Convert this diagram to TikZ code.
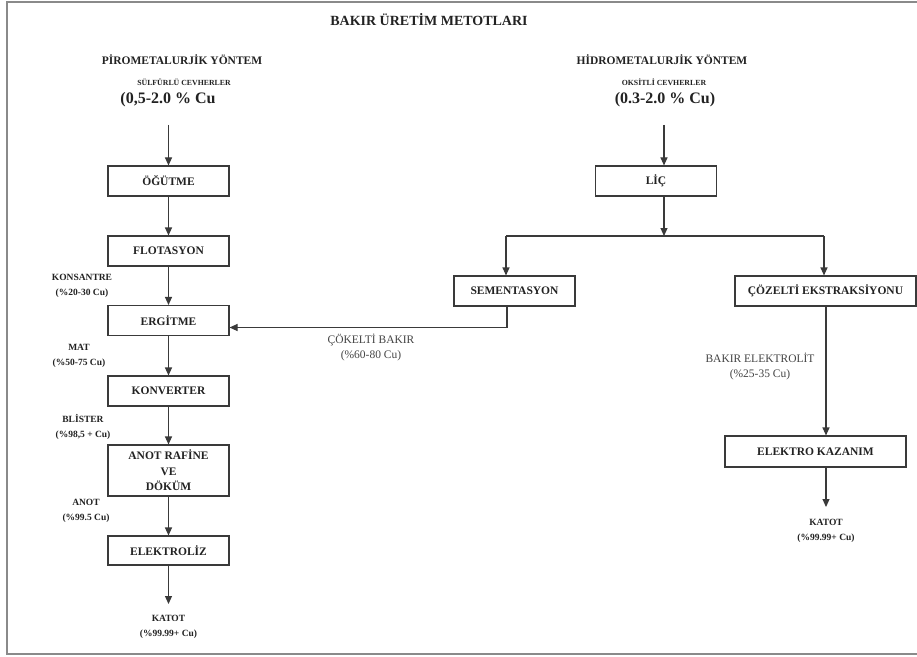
\documentclass[tikz,border=0pt]{standalone}
\usepackage{fontspec}
\setmainfont{Liberation Serif}
\usetikzlibrary{arrows.meta}
\definecolor{ink}{HTML}{222222}
\definecolor{lin}{HTML}{3A3A3A}
\definecolor{frm}{HTML}{8A8A8A}
\definecolor{gtxt}{HTML}{444444}
\tikzset{
  stepbox/.style={draw=lin, line width=1.1bp, fill=white, text=ink, inner sep=0pt,
    minimum width=121bp, minimum height=30bp, align=center,
    font=\fontsize{11.5bp}{15.5bp}\selectfont\bfseries},
  arr/.style={draw=lin, line width=1.1bp, -{Triangle[length=8bp,width=7bp]}},
  ln/.style={draw=lin, line width=1.1bp},
  lbl/.style={text=ink, inner sep=0pt, align=center, font=\fontsize{9.5bp}{15bp}\selectfont\bfseries},
  glbl/.style={text=gtxt, inner sep=0pt, align=center, font=\fontsize{11.5bp}{15bp}\selectfont},
  hdr/.style={text=ink, inner sep=0pt, font=\fontsize{11.5bp}{14bp}\selectfont\bfseries},
  sub/.style={text=ink, inner sep=0pt, font=\fontsize{7.8bp}{10bp}\selectfont\bfseries},
  big/.style={text=ink, inner sep=0pt, font=\fontsize{16bp}{18bp}\selectfont\bfseries},
}
\begin{document}
\begin{tikzpicture}[x=1bp,y=-1bp]
\useasboundingbox (0,0) rectangle (917,657);
\fill[white] (0,0) rectangle (917,657);
% frame
\draw[frm, line width=2bp] (917,2) -- (7,2) -- (7,654) -- (917,654);

% headings
\node[hdr, font=\fontsize{14bp}{16bp}\selectfont\bfseries] (title) at (429,20) {BAKIR ÜRETİM METOTLARI};
\node[hdr] (piro) at (182,60) {PİROMETALURJİK YÖNTEM};
\node[sub] (sulf) at (184,82) {SÜLFÜRLÜ CEVHERLER};
\node[big] (pct1) at (168,100) {(0,5-2.0 \% Cu};
\node[hdr] (hidro) at (662,60) {HİDROMETALURJİK YÖNTEM};
\node[sub] (oks) at (664,82) {OKSİTLİ CEVHERLER};
\node[big] (pct2) at (665,100) {(0.3-2.0 \% Cu)};

% left column
\coordinate (t1) at (168.5,125);
\node[stepbox] (ogut) at (168.5,181) {ÖĞÜTME};
\node[stepbox] (flot) at (168.5,251) {FLOTASYON};
\node[stepbox] (ergi) at (168.5,320.5) {ERGİTME};
\node[stepbox] (konv) at (168.5,391) {KONVERTER};
\node[stepbox, minimum height=51bp] (anot) at (168.5,470.5) {ANOT RAFİNE\\VE\\DÖKÜM};
\node[stepbox, minimum height=29bp] (elek) at (168.5,550.5) {ELEKTROLİZ};
\coordinate (e1) at (168.5,604);

\draw[arr] (t1) -- (ogut);
\draw[arr] (ogut) -- (flot);
\draw[arr] (flot) -- (ergi);
\draw[arr] (ergi) -- (konv);
\draw[arr] (konv) -- (anot);
\draw[arr] (anot) -- (elek);
\draw[arr] (elek) -- (e1);

\node[lbl] (konsantre) at (82,285.5) {KONSANTRE\\(\%20-30 Cu)};
\node[lbl] (mat) at (79,356) {MAT\\(\%50-75 Cu)};
\node[lbl] (blister) at (83,426.5) {BLİSTER\\(\%98,5 + Cu)};
\node[lbl] (anotl) at (86,511) {ANOT\\(\%99.5 Cu)};
\node[lbl] (katot1) at (168.5,627) {KATOT\\(\%99.99+ Cu)};

% right column
\coordinate (t2) at (664,125);
\node[stepbox] (lic) at (656,181) {LİÇ};
\coordinate (br) at (664,236);
\coordinate (brl) at (506,236);
\coordinate (brr) at (824,236);
\node[stepbox] (sem) at (514.5,291) {SEMENTASYON};
\node[stepbox, minimum width=181bp] (coz) at (825.5,291) {ÇÖZELTİ EKSTRAKSİYONU};
\node[stepbox, minimum width=181bp, minimum height=31bp] (ekaz) at (815.5,451.5) {ELEKTRO KAZANIM};
\coordinate (e2) at (826,507);
\coordinate (sc) at (507,327.5);

\draw[arr] (t2) -- (t2 |- lic.north);
\draw[arr] (br |- lic.south) -- (br);
\draw[ln] (brl) -- (brr);
\draw[arr] (brl) -- (brl |- sem.north);
\draw[arr] (brr) -- (brr |- coz.north);
\draw[arr] (sc |- sem.south) -- (sc) -- (sc -| ergi.east);
\draw[arr] (e2 |- coz.south) -- (e2 |- ekaz.north);
\draw[arr] (e2 |- ekaz.south) -- (e2);

\node[glbl] (cokelti) at (371,347.5) {ÇÖKELTİ BAKIR\\(\%60-80 Cu)};
\node[glbl] (belek) at (760,366.5) {BAKIR ELEKTROLİT\\(\%25-35 Cu)};
\node[lbl] (katot2) at (826,531) {KATOT\\(\%99.99+ Cu)};
\end{tikzpicture}
\end{document}
